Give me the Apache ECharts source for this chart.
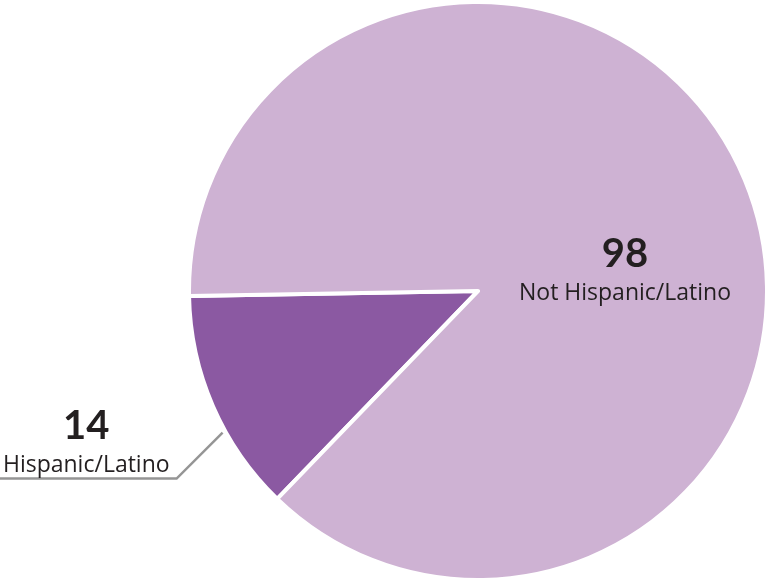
<!DOCTYPE html>
<html>
<head>
<meta charset="utf-8">
<script src="https://cdn.jsdelivr.net/npm/echarts@6/dist/echarts.min.js"></script>
<style>
html,body{margin:0;padding:0;background:#fff;}
#chart{width:766px;height:579px;}
</style>
</head>
<body>
<div id="chart"></div>
<script>
const categories = ['Hispanic/Latino', 'Not Hispanic/Latino'];
const values = [14, 98];
const sliceColors = ['#8b59a2', '#ceb2d3'];

const CX = 478, CY = 291, R = 289;
const NUM_FONT = 'Lato, "Open Sans", sans-serif';
const NAME_FONT = '"Open Sans", Lato, sans-serif';

const chart = echarts.init(document.getElementById('chart'));
chart.setOption({
  backgroundColor: '#ffffff',
  animation: false,
  series: [{
    type: 'pie',
    center: [CX, CY],
    radius: [0, R],
    startAngle: 226,
    clockwise: true,
    avoidLabelOverlap: false,
    silent: true,
    itemStyle: { borderColor: '#ffffff', borderWidth: 4, borderJoin: 'round' },
    label: {
      show: true,
      position: 'outside',
      color: '#231f20',
      formatter: function (p) { return '{v|' + p.value + '}\n{n|' + p.name + '}'; },
      rich: {
        v: { fontFamily: NUM_FONT, fontSize: 40, fontWeight: 'bold', color: '#231f20', align: 'center', lineHeight: 48 },
        n: { fontFamily: NAME_FONT, fontSize: 23, fontWeight: 'normal', color: '#231f20', align: 'center', lineHeight: 30 }
      }
    },
    labelLine: { show: true, lineStyle: { color: '#959595', width: 2.5 } },
    labelLayout: function (p) {
      if (p.dataIndex === 1) {
        return { x: CX + 147, y: CY - 22, align: 'center', verticalAlign: 'middle' };
      }
      const a = 209 * Math.PI / 180, rr = R + 3;
      const p0 = [CX + rr * Math.cos(a), CY - rr * Math.sin(a)];
      const p1 = [p0[0] - 46, p0[1] + 46];
      const p2 = [0, p1[1]];
      return { x: p1[0] - 7, y: p1[1] + 2, align: 'right', verticalAlign: 'bottom', labelLinePoints: [p0, p1, p2] };
    },
    data: categories.map(function (c, i) {
      const d = { name: c, value: values[i], itemStyle: { color: sliceColors[i] } };
      if (i === 1) { d.label = { position: 'inside' }; d.labelLine = { show: false }; }
      return d;
    })
  }]
});
</script>
</body>
</html>
